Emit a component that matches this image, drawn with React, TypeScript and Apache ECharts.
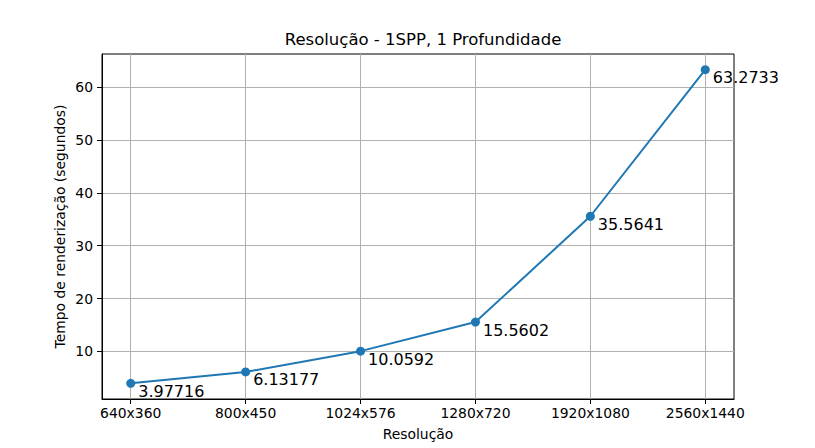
import React, { useEffect, useRef } from "react";
import * as echarts from "echarts";

const categories = ["640x360", "800x450", "1024x576", "1280x720", "1920x1080", "2560x1440"];
const renderTimes = [3.97716, 6.13177, 10.0592, 15.5602, 35.5641, 63.2733];
const yTicks = [10, 20, 30, 40, 50, 60];
const titleText = "Resolução - 1SPP, 1 Profundidade";
const xName = "Resolução";
const yName = "Tempo de renderização (segundos)";

export default function App() {
  const ref = useRef<HTMLDivElement>(null);
  useEffect(() => {
    if (!ref.current) return;
    const chart = echarts.init(ref.current, undefined, { renderer: "svg" });
    const font = "DejaVu Sans";
    const dMin = Math.min(...renderTimes);
    const dMax = Math.max(...renderTimes);
    const span = dMax - dMin;
    const xIdx = categories.map((_, i) => i);
    chart.setOption({
      animation: false,
      backgroundColor: "#fff",
      textStyle: { fontFamily: font },
      title: {
        text: titleText,
        left: 418,
        top: 26,
        textAlign: "center",
        textStyle: { fontFamily: font, fontSize: 16.5, fontWeight: "normal", color: "#000" },
      },
      grid: {
        left: 102,
        right: 81,
        top: 54,
        bottom: 49,
        show: true,
        borderColor: "#000",
        borderWidth: 1,
        backgroundColor: "transparent",
      },
      xAxis: {
        type: "value",
        min: -0.25,
        max: categories.length - 1 + 0.25,
        name: xName,
        nameLocation: "middle",
        nameGap: 28,
        nameMoveOverlap: false,
        nameTextStyle: { fontFamily: font, fontSize: 13.9, color: "#000", verticalAlign: "top" },
        axisLine: { show: true, onZero: false, lineStyle: { color: "#000", width: 1 } },
        axisTick: { show: true, length: 5, customValues: xIdx, lineStyle: { color: "#000" } },
        axisLabel: {
          customValues: xIdx,
          margin: 7,
          fontFamily: font,
          fontSize: 13.9,
          color: "#000",
          formatter: (v: number) => categories[Math.round(v)] ?? "",
        },
        splitLine: { show: true, lineStyle: { color: "#b0b0b0", width: 1 } },
      },
      yAxis: {
        type: "value",
        min: dMin - 0.05 * span,
        max: dMax + 0.05 * span,
        name: yName,
        nameLocation: "middle",
        nameGap: 35,
        nameRotate: 90,
        nameMoveOverlap: false,
        nameTextStyle: { fontFamily: font, fontSize: 13.9, color: "#000" },
        axisLine: { show: true, onZero: false, lineStyle: { color: "#000", width: 1 } },
        axisTick: { show: true, length: 5, customValues: yTicks, lineStyle: { color: "#000" } },
        axisLabel: {
          customValues: yTicks,
          margin: 9,
          fontFamily: font,
          fontSize: 13.9,
          color: "#000",
        },
        splitLine: { show: true, lineStyle: { color: "#b0b0b0", width: 1 } },
      },
      series: [
        {
          type: "line",
          data: renderTimes.map((v, i) => [i, v]),
          symbol: "circle",
          symbolSize: 9,
          lineStyle: { color: "#1f77b4", width: 2 },
          itemStyle: { color: "#1f77b4" },
          label: {
            show: true,
            position: "right",
            distance: 3,
            offset: [0, 8],
            fontFamily: font,
            fontSize: 16,
            color: "#000",
            formatter: (p: any) => String(p.value[1]),
          },
          z: 3,
        },
      ],
    });
    return () => chart.dispose();
  }, []);
  return (
    <div
      ref={ref}
      style={{ position: "fixed", left: 0, top: 0, width: 815, height: 448 }}
    />
  );
}
